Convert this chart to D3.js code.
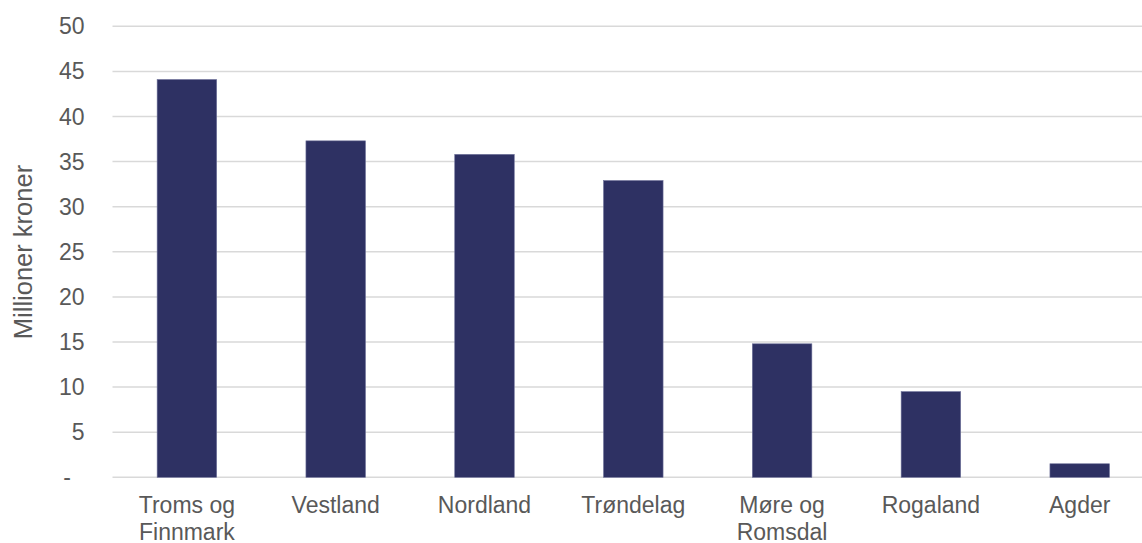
<!DOCTYPE html>
<html>
<head>
<meta charset="utf-8">
<script src="https://cdn.jsdelivr.net/npm/d3@7"></script>
<style>
  html, body { margin: 0; padding: 0; background: #fff; }
  svg { display: block; }
  text { font-family: "Liberation Sans", Arial, sans-serif; fill: #595959; }
</style>
</head>
<body>
<svg id="chart" width="1142" height="543"></svg>
<script>
const categories = ["Troms og Finnmark", "Vestland", "Nordland", "Trøndelag", "Møre og Romsdal", "Rogaland", "Agder"];
const categoryLabels = [["Troms og", "Finnmark"], ["Vestland"], ["Nordland"], ["Trøndelag"], ["Møre og", "Romsdal"], ["Rogaland"], ["Agder"]];
const values = [44.1, 37.3, 35.8, 32.9, 14.8, 9.5, 1.5];
const yTicks = [0, 5, 10, 15, 20, 25, 30, 35, 40, 45, 50];
const yTickLabels = ["-", "5", "10", "15", "20", "25", "30", "35", "40", "45", "50"];
const yTitle = "Millioner kroner";

const svg = d3.select("#chart");
const W = 1142;
const plotLeft = 112.5, step = 148.8;
const x = d3.scaleBand().domain(categories)
  .range([plotLeft, plotLeft + step * categories.length])
  .paddingInner(0.6).paddingOuter(0.3);
const y = d3.scaleLinear().domain([0, 50]).range([477.3, 26.3]);

// gridlines
svg.append("g").selectAll("line").data(yTicks).join("line")
  .attr("x1", plotLeft).attr("x2", W)
  .attr("y1", d => y(d)).attr("y2", d => y(d))
  .attr("stroke", "#d9d9d9").attr("stroke-width", 1.5);

// y tick labels
svg.append("g").selectAll("text").data(yTicks).join("text")
  .attr("x", (d, i) => yTickLabels[i] === "-" ? 71 : 84.5)
  .attr("y", d => y(d))
  .attr("dy", "0.35em")
  .attr("text-anchor", "end")
  .attr("font-size", 23)
  .text((d, i) => yTickLabels[i]);

// bars
svg.append("g").selectAll("rect").data(values).join("rect")
  .attr("x", (d, i) => x(categories[i]))
  .attr("width", x.bandwidth())
  .attr("y", d => y(d))
  .attr("height", d => y(0) - y(d))
  .attr("fill", "#2e3163")
  .attr("stroke", "#6d7099")
  .attr("stroke-width", 0.6);

// category labels
const cl = svg.append("g").selectAll("text").data(categories).join("text")
  .attr("text-anchor", "middle")
  .attr("font-size", 23)
  .attr("x", d => x(d) + x.bandwidth() / 2)
  .attr("y", 513);
cl.each(function(d, i) {
  const t = d3.select(this);
  categoryLabels[i].forEach((line, j) => {
    t.append("tspan").attr("x", x(d) + x.bandwidth() / 2)
      .attr("dy", j === 0 ? 0 : 26.5).text(line);
  });
});

// y title
svg.append("text")
  .attr("transform", "translate(31.5,252) rotate(-90)")
  .attr("text-anchor", "middle")
  .attr("font-size", 25.5)
  .text(yTitle);
</script>
</body>
</html>
